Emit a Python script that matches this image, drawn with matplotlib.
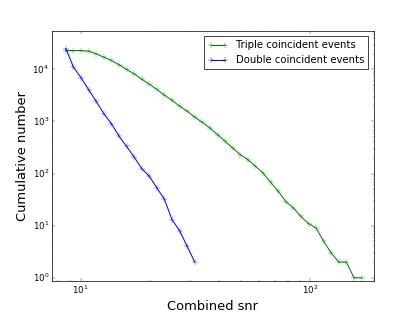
import matplotlib
matplotlib.use('Agg')
import matplotlib.pyplot as plt

# combined snr bins (log spaced)
snr = [8.63, 9.31, 10.05, 10.84, 11.69, 12.62, 13.61, 14.69, 15.84, 17.09,
       18.44, 19.90, 21.47, 23.16, 24.99, 26.96, 29.09, 31.38, 33.86, 36.53,
       39.41, 42.52, 45.88, 49.50, 53.40, 57.62, 62.16, 67.07, 72.36, 78.07,
       84.23, 90.87, 98.04, 105.8, 114.1, 123.1, 132.8, 143.3, 154.6, 166.8]

triple = [23000, 23000, 23000, 22300, 19900, 17100, 14800, 12300, 9960, 8240,
          6490, 5200, 4120, 3200, 2540, 1970, 1580, 1210, 961, 748,
          558, 416, 309, 231, 185, 138, 103, 68, 46, 29,
          22, 15, 11, 9, 5, 3, 2, 2, 1, 1]

double = [25100, 11000, 6900, 4060, 2430, 1410, 907, 525, 333, 208,
          125, 89, 53, 32, 13, 8, 4, 2]

plt.style.use('classic')
fig = plt.figure(figsize=(415 / 52.0, 312 / 52.0), dpi=52)
ax = fig.add_subplot(111)

ax.loglog(snr, triple, 'g+-', lw=1.4, ms=7, label='Triple coincident events')
ax.loglog(snr[:len(double)], double, 'b+-', lw=1.4, ms=7,
          label='Double coincident events')

ax.set_xlim(7.5, 188)
ax.set_ylim(0.875, 5.4e4)
ax.set_xlabel('Combined snr', fontsize=18)
ax.set_ylabel('Cumulative number', fontsize=18)
ax.legend(loc='upper right', fontsize=14)

fig.savefig('out.png', dpi=52, facecolor='white')
